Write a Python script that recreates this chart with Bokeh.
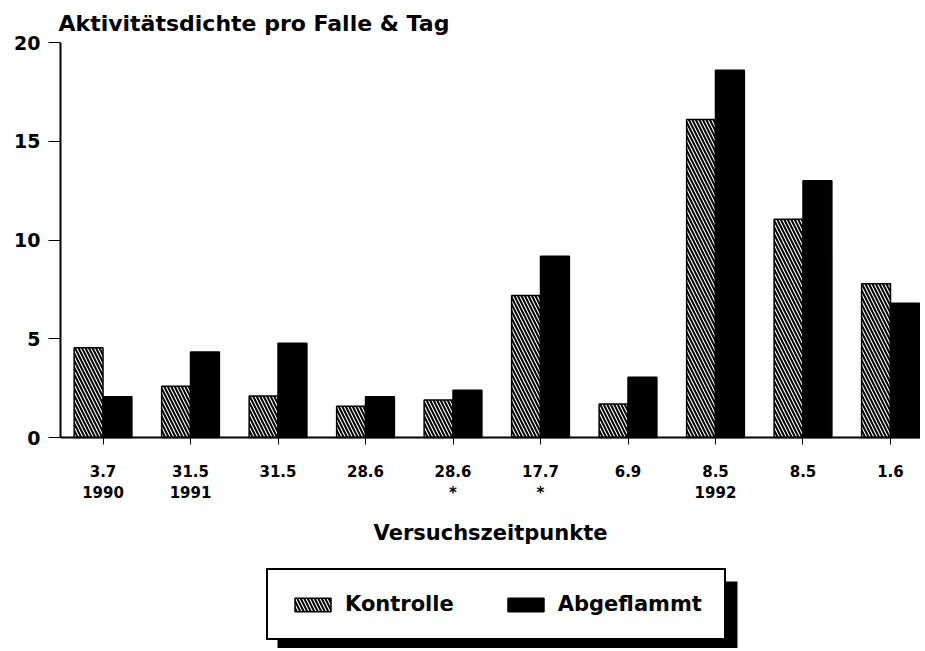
from bokeh.plotting import figure
from bokeh.models import (ColumnDataSource, LinearAxis, FixedTicker, Range1d,
                          Legend, LegendItem, BoxAnnotation)
from bokeh.transform import dodge
from bokeh.embed import file_html
from bokeh.resources import INLINE

# ---- data ----
tick_labels = ["3.7\n1990", "31.5\n1991", "31.5", "28.6", "28.6\n*",
               "17.7\n*", "6.9", "8.5\n1992", "8.5", "1.6"]
kontrolle = [4.55, 2.6, 2.1, 1.58, 1.9, 7.19, 1.7, 16.1, 11.05, 7.79]
abgeflammt = [2.07, 4.33, 4.78, 2.06, 2.4, 9.18, 3.05, 18.6, 13.0, 6.8]
y_ticks = [0, 5, 10, 15, 20]

FONT = "DejaVu Sans"

idx = list(range(len(tick_labels)))
src = ColumnDataSource(dict(x=idx, k=kontrolle, a=abgeflammt))

W, H = 920, 648
p = figure(width=W, height=H, output_backend="svg", toolbar_location=None,
           x_range=Range1d(-0.486, 9.343), y_range=Range1d(-10.68, 20),
           x_axis_type=None, y_axis_type=None,
           min_border_left=60, min_border_right=0, min_border_top=42,
           min_border_bottom=0)
p.outline_line_color = None
p.background_fill_color = "white"
p.border_fill_color = "white"

# title
p.title.text = "Aktivitätsdichte pro Falle & Tag"
p.title.text_font = FONT
p.title.text_font_style = "bold"
p.title.text_font_size = "22px"
p.title.align = "left"
p.title.offset = -2
p.title.standoff = 14
p.title.text_color = "black"

# y axis
yax = LinearAxis(ticker=FixedTicker(ticks=y_ticks), bounds=(0, 20))
yax.axis_line_width = 2
yax.axis_line_color = "black"
yax.major_tick_out = 12
yax.major_tick_in = 0
yax.minor_tick_line_color = None
yax.major_tick_line_color = "black"
yax.major_label_text_font = FONT
yax.major_label_text_font_style = "bold"
yax.major_label_text_font_size = "19px"
yax.major_label_text_color = "black"
yax.major_label_standoff = 8
p.add_layout(yax, "left")

# x axis at y = 0
xax = LinearAxis(ticker=FixedTicker(ticks=idx), fixed_location=0)
xax.major_label_overrides = {i: t for i, t in zip(idx, tick_labels)}
xax.axis_line_width = 2
xax.axis_line_color = "black"
xax.major_tick_out = 7
xax.major_tick_in = 0
xax.minor_tick_line_color = None
xax.major_label_text_font = FONT
xax.major_label_text_font_style = "bold"
xax.major_label_text_font_size = "15px"
xax.major_label_text_color = "black"
xax.major_label_standoff = 18
xax.axis_label = "Versuchszeitpunkte"
xax.axis_label_text_font = FONT
xax.axis_label_text_font_style = "bold"
xax.axis_label_text_font_size = "21px"
xax.axis_label_text_color = "black"
xax.axis_label_standoff = 16
p.add_layout(xax, "below")

# grid
p.ygrid.ticker = FixedTicker(ticks=[5, 10, 15, 20])
p.ygrid.grid_line_color = "black"
p.ygrid.grid_line_width = 1
p.ygrid.grid_line_alpha = 0.85
p.xgrid.visible = False

# bars
bw = 0.33
r_k = p.vbar(x=dodge("x", -0.165), top="k", bottom=0, width=bw, source=src,
             fill_color="white", line_color="black", line_width=1.5,
             hatch_pattern="\\", hatch_color="black", hatch_weight=2,
             hatch_scale=7)
r_a = p.vbar(x=dodge("x", 0.165), top="a", bottom=0, width=bw, source=src,
             fill_color="black", line_color="black", line_width=1.5)

# legend shadow
p.add_layout(BoxAnnotation(left=1.994, right=7.251, top=-7.29, bottom=-11.5,
                           fill_color="black", fill_alpha=1.0,
                           line_color=None, level="overlay"))

legend = Legend(items=[LegendItem(label="Kontrolle", renderers=[r_k]),
                       LegendItem(label="Abgeflammt", renderers=[r_a])],
                orientation="horizontal", location=(206, 8), margin=0,
                padding=22, spacing=49, label_standoff=10,
                glyph_width=45, glyph_height=17,
                label_text_font=FONT, label_text_font_style="bold",
                label_text_font_size="21px", label_text_color="black",
                border_line_color="black", border_line_width=2,
                border_line_alpha=1.0,
                background_fill_color="white", background_fill_alpha=1.0)
p.add_layout(legend)

open("out.html", "w").write(file_html(p, INLINE))
